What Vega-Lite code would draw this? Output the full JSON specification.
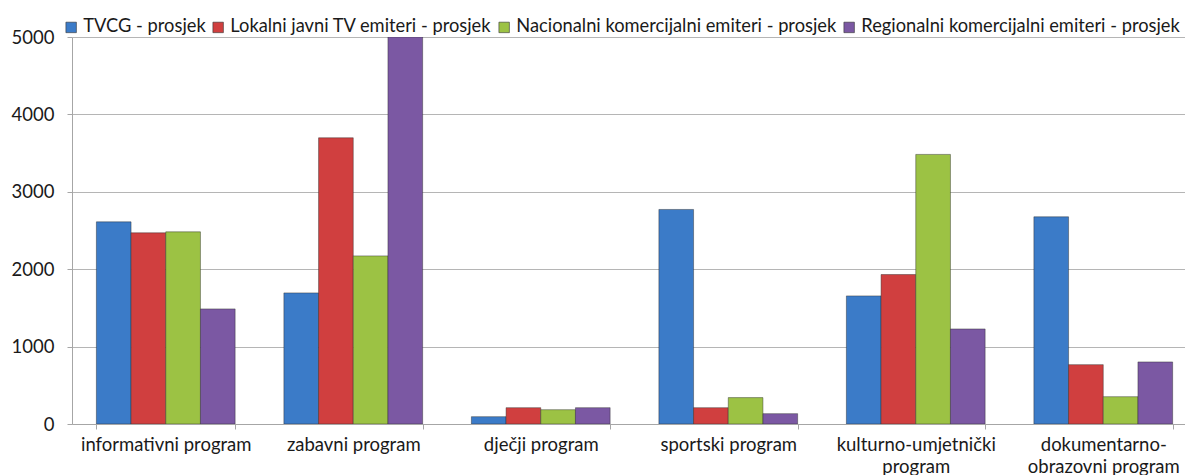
{
  "$schema": "https://vega.github.io/schema/vega-lite/v6.json",
  "width": 1113,
  "height": 387,
  "autosize": {"type": "none"},
  "padding": {"left": 72, "top": 37, "right": 0, "bottom": 51},
  "background": "white",
  "config": {"view": {"stroke": null}, "font": "Lato"},
  "data": {
    "values": [
      {"program": "informativni program", "serija": "TVCG - prosjek", "vrijednost": 2612},
      {"program": "informativni program", "serija": "Lokalni javni TV emiteri - prosjek", "vrijednost": 2470},
      {"program": "informativni program", "serija": "Nacionalni komercijalni emiteri - prosjek", "vrijednost": 2483},
      {"program": "informativni program", "serija": "Regionalni komercijalni emiteri - prosjek", "vrijednost": 1487},
      {"program": "zabavni program", "serija": "TVCG - prosjek", "vrijednost": 1694},
      {"program": "zabavni program", "serija": "Lokalni javni TV emiteri - prosjek", "vrijednost": 3698},
      {"program": "zabavni program", "serija": "Nacionalni komercijalni emiteri - prosjek", "vrijednost": 2172},
      {"program": "zabavni program", "serija": "Regionalni komercijalni emiteri - prosjek", "vrijednost": 5000},
      {"program": "dječji program", "serija": "TVCG - prosjek", "vrijednost": 95},
      {"program": "dječji program", "serija": "Lokalni javni TV emiteri - prosjek", "vrijednost": 211},
      {"program": "dječji program", "serija": "Nacionalni komercijalni emiteri - prosjek", "vrijednost": 185},
      {"program": "dječji program", "serija": "Regionalni komercijalni emiteri - prosjek", "vrijednost": 211},
      {"program": "sportski program", "serija": "TVCG - prosjek", "vrijednost": 2772},
      {"program": "sportski program", "serija": "Lokalni javni TV emiteri - prosjek", "vrijednost": 211},
      {"program": "sportski program", "serija": "Nacionalni komercijalni emiteri - prosjek", "vrijednost": 341},
      {"program": "sportski program", "serija": "Regionalni komercijalni emiteri - prosjek", "vrijednost": 134},
      {"program": "kulturno-umjetnički program", "serija": "TVCG - prosjek", "vrijednost": 1655},
      {"program": "kulturno-umjetnički program", "serija": "Lokalni javni TV emiteri - prosjek", "vrijednost": 1931},
      {"program": "kulturno-umjetnički program", "serija": "Nacionalni komercijalni emiteri - prosjek", "vrijednost": 3483},
      {"program": "kulturno-umjetnički program", "serija": "Regionalni komercijalni emiteri - prosjek", "vrijednost": 1228},
      {"program": "dokumentarno-obrazovni program", "serija": "TVCG - prosjek", "vrijednost": 2677},
      {"program": "dokumentarno-obrazovni program", "serija": "Lokalni javni TV emiteri - prosjek", "vrijednost": 767},
      {"program": "dokumentarno-obrazovni program", "serija": "Nacionalni komercijalni emiteri - prosjek", "vrijednost": 353},
      {"program": "dokumentarno-obrazovni program", "serija": "Regionalni komercijalni emiteri - prosjek", "vrijednost": 802}
    ]
  },
  "mark": {"type": "bar", "stroke": "#2a2a2a", "strokeWidth": 0.8, "strokeOpacity": 0.55, "clip": true},
  "encoding": {
    "x": {
      "field": "program",
      "type": "nominal",
      "sort": null,
      "title": null,
      "scale": {"range": [0, 1125], "paddingInner": 0.26, "paddingOuter": 0.13},
      "axis": {
        "labelAngle": 0,
        "labelFont": "Lato",
        "labelFontSize": 18.5,
        "labelColor": "#1a1a1a",
        "labelPadding": 6,
        "labelLimit": 0,
        "labelLineHeight": 22,
        "domainColor": "#A6A6A6",
        "tickColor": "#A6A6A6",
        "tickSize": 5,
        "tickBand": "extent",
        "labelExpr": "datum.value == 'kulturno-umjetnički program' ? ['kulturno-umjetnički', 'program'] : datum.value == 'dokumentarno-obrazovni program' ? ['dokumentarno-', 'obrazovni program'] : datum.label"
      }
    },
    "xOffset": {
      "field": "serija",
      "sort": null,
      "scale": {"paddingInner": 0, "paddingOuter": 0}
    },
    "y": {
      "field": "vrijednost",
      "type": "quantitative",
      "title": null,
      "scale": {"domain": [0, 5000], "nice": false},
      "axis": {
        "values": [0, 1000, 2000, 3000, 4000, 5000],
        "format": "d",
        "labelFont": "Lato",
        "labelFontSize": 18.5,
        "labelColor": "#1a1a1a",
        "labelPadding": 13,
        "domainColor": "#A6A6A6",
        "tickColor": "#A6A6A6",
        "tickSize": 5,
        "gridColor": "#B5B5B5",
        "gridWidth": 1
      }
    },
    "color": {
      "field": "serija",
      "type": "nominal",
      "sort": null,
      "scale": {
        "domain": ["TVCG - prosjek", "Lokalni javni TV emiteri - prosjek", "Nacionalni komercijalni emiteri - prosjek", "Regionalni komercijalni emiteri - prosjek"],
        "range": ["#3B7BC8", "#D03F3F", "#9CC244", "#7B58A3"]
      },
      "legend": {
        "title": null,
        "orient": "none",
        "legendX": -10,
        "legendY": -19,
        "direction": "horizontal",
        "symbolType": "square",
        "symbolSize": 110,
        "symbolStrokeColor": "#333333",
        "symbolStrokeWidth": 0.6,
        "labelFont": "Lato",
        "labelFontSize": 18.3,
        "labelColor": "#1a1a1a",
        "labelOffset": 3,
        "columnPadding": 3,
        "labelLimit": 500,
        "padding": 0
      }
    }
  }
}
